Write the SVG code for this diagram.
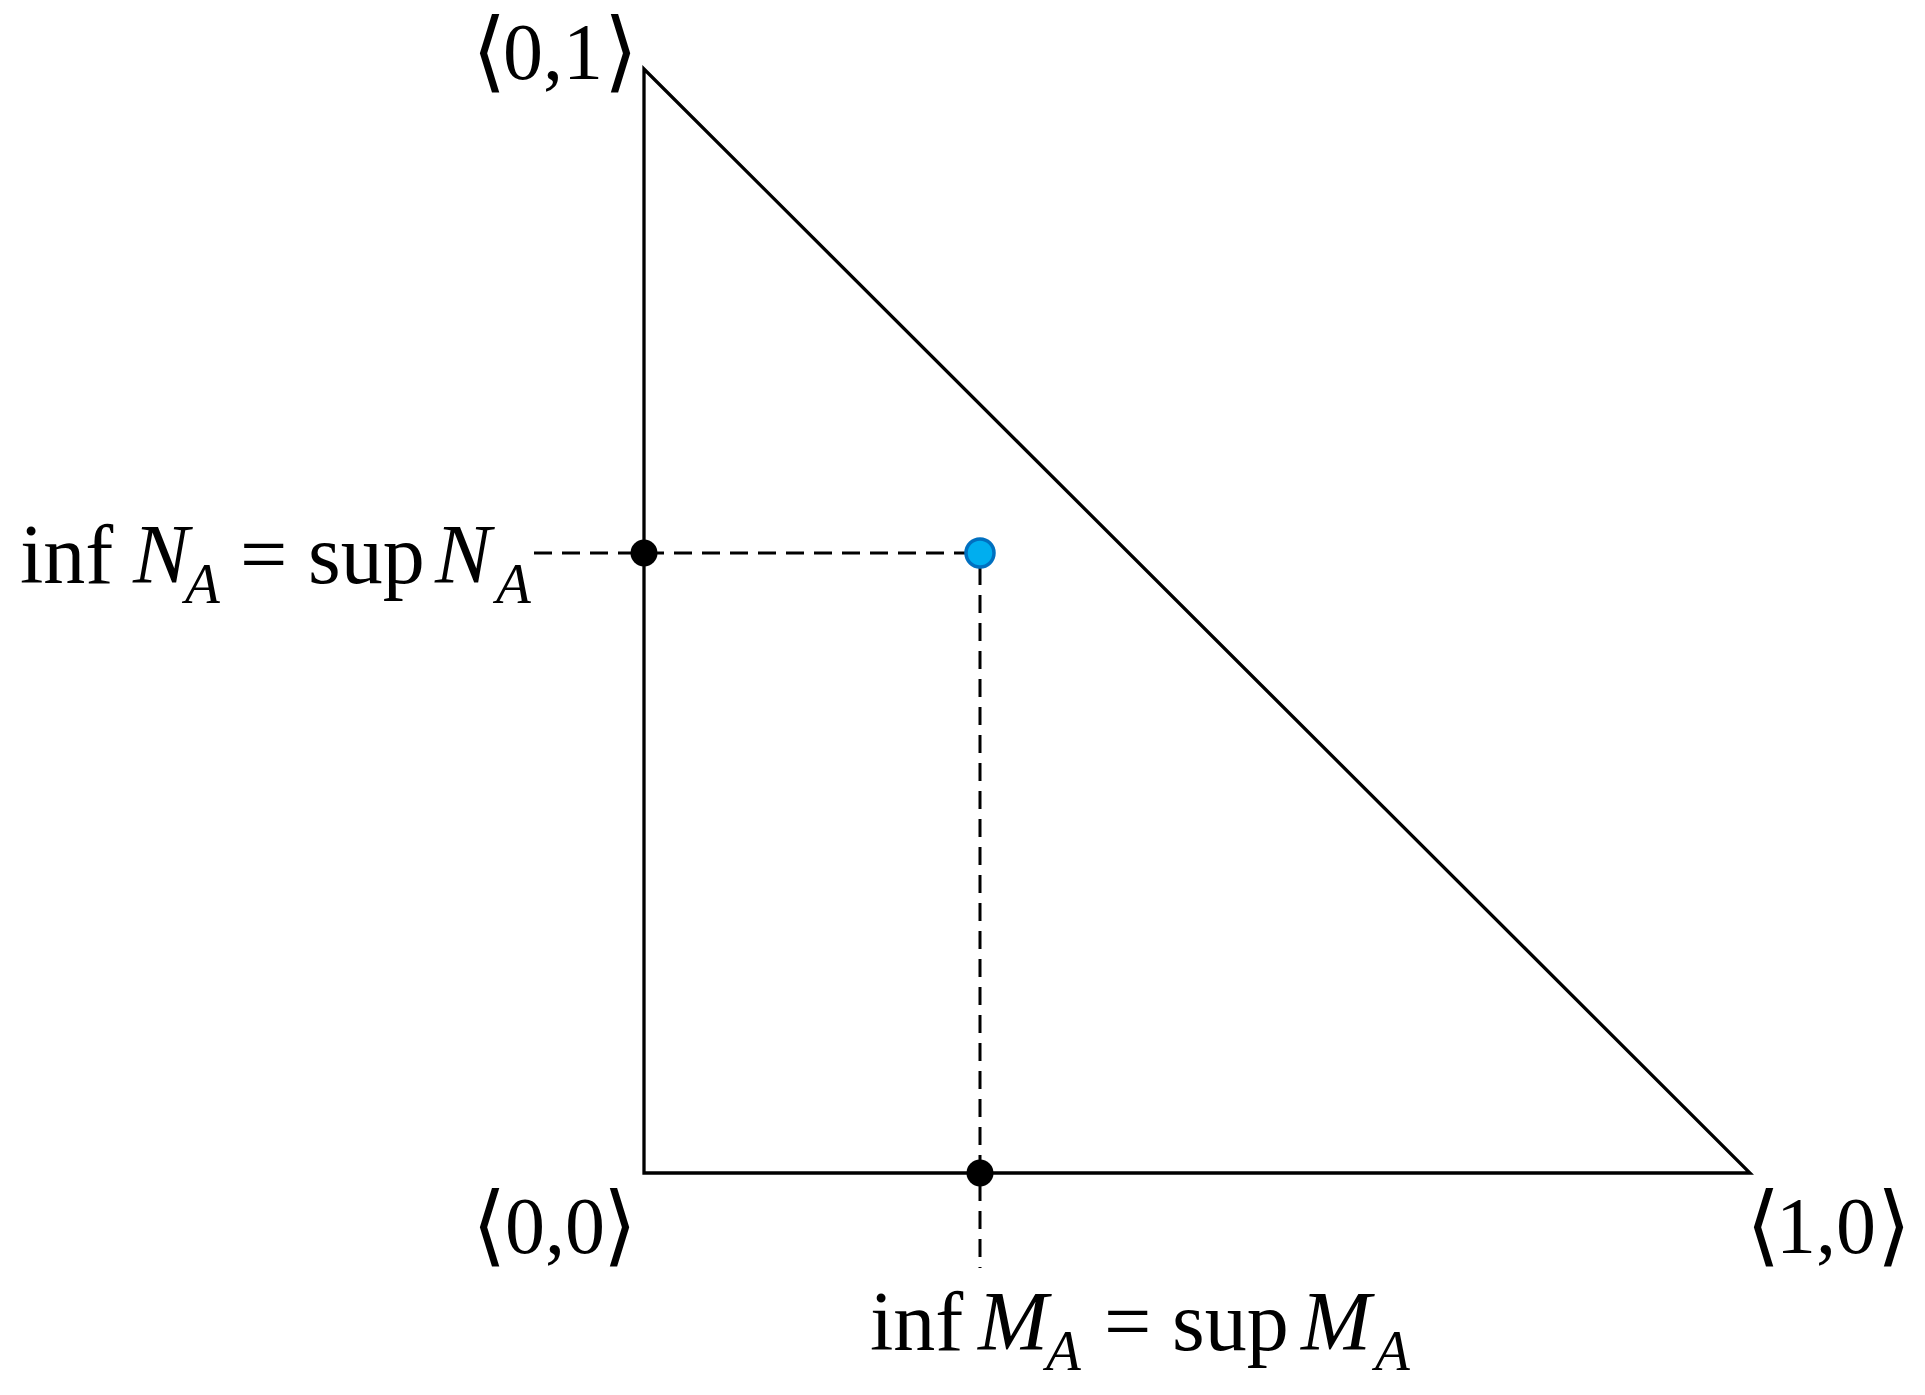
<svg xmlns="http://www.w3.org/2000/svg" width="1925" height="1395" viewBox="0 0 1925 1395">
<style>
.t{font-family:"Liberation Serif","DejaVu Serif",serif;fill:#000}
.lab{font-size:84px}
.sub{font-size:57px;font-style:italic}
.it{font-style:italic}
.cor{font-size:80px}
.br{font-family:"DejaVu Sans","DejaVu Serif",serif;font-weight:200;font-size:88px;fill:#000}
.solid{fill:none;stroke:#000;stroke-width:3.3}
.dash{fill:none;stroke:#000;stroke-width:3;stroke-dasharray:18 10}
</style>
<rect width="1925" height="1395" fill="#fff"/>
<g id="triangle">
<polygon class="solid" points="644,69 644,1173 1750,1173"/>
</g>
<g id="connectors">
<line class="dash" x1="534" y1="553" x2="966" y2="553"/>
<line class="dash" x1="980" y1="567" x2="980" y2="1268"/>
</g>
<g id="point-NA">
<circle cx="644" cy="553" r="13.5" fill="#000"/>
</g>
<g id="point-MA">
<circle cx="980" cy="1173" r="13.5" fill="#000"/>
</g>
<g id="point-A">
<circle cx="980" cy="553" r="14" fill="#00AEEF" stroke="#0070C0" stroke-width="3.5"/>
</g>
<g id="corner-01">
<text class="br" x="472" y="81">⟨</text>
<text class="t cor" x="503" y="79">0,1</text>
<text class="br" x="638" y="81" text-anchor="end">⟩</text>
</g>
<g id="corner-00">
<text class="br" x="472" y="1255">⟨</text>
<text class="t cor" x="505" y="1253">0,0</text>
<text class="br" x="637" y="1255" text-anchor="end">⟩</text>
</g>
<g id="corner-10">
<text class="br" x="1746" y="1255">⟨</text>
<text class="t cor" x="1776" y="1253">1,0</text>
<text class="br" x="1911" y="1255" text-anchor="end">⟩</text>
</g>
<g id="label-NA">
<text class="t lab" x="20" y="583">inf</text>
<text class="t lab it" x="133" y="583">N</text>
<text class="t sub" x="185" y="603">A</text>
<text class="t lab" x="240" y="583">=</text>
<text class="t lab" x="308" y="583">sup</text>
<text class="t lab it" x="435" y="583">N</text>
<text class="t sub" x="496" y="603">A</text>
</g>
<g id="label-MA">
<text class="t lab" x="870" y="1350">inf</text>
<text class="t lab it" x="978" y="1350">M</text>
<text class="t sub" x="1046" y="1370">A</text>
<text class="t lab" x="1104" y="1350">=</text>
<text class="t lab" x="1172" y="1350">sup</text>
<text class="t lab it" x="1301" y="1350">M</text>
<text class="t sub" x="1375" y="1370">A</text>
</g>
</svg>
